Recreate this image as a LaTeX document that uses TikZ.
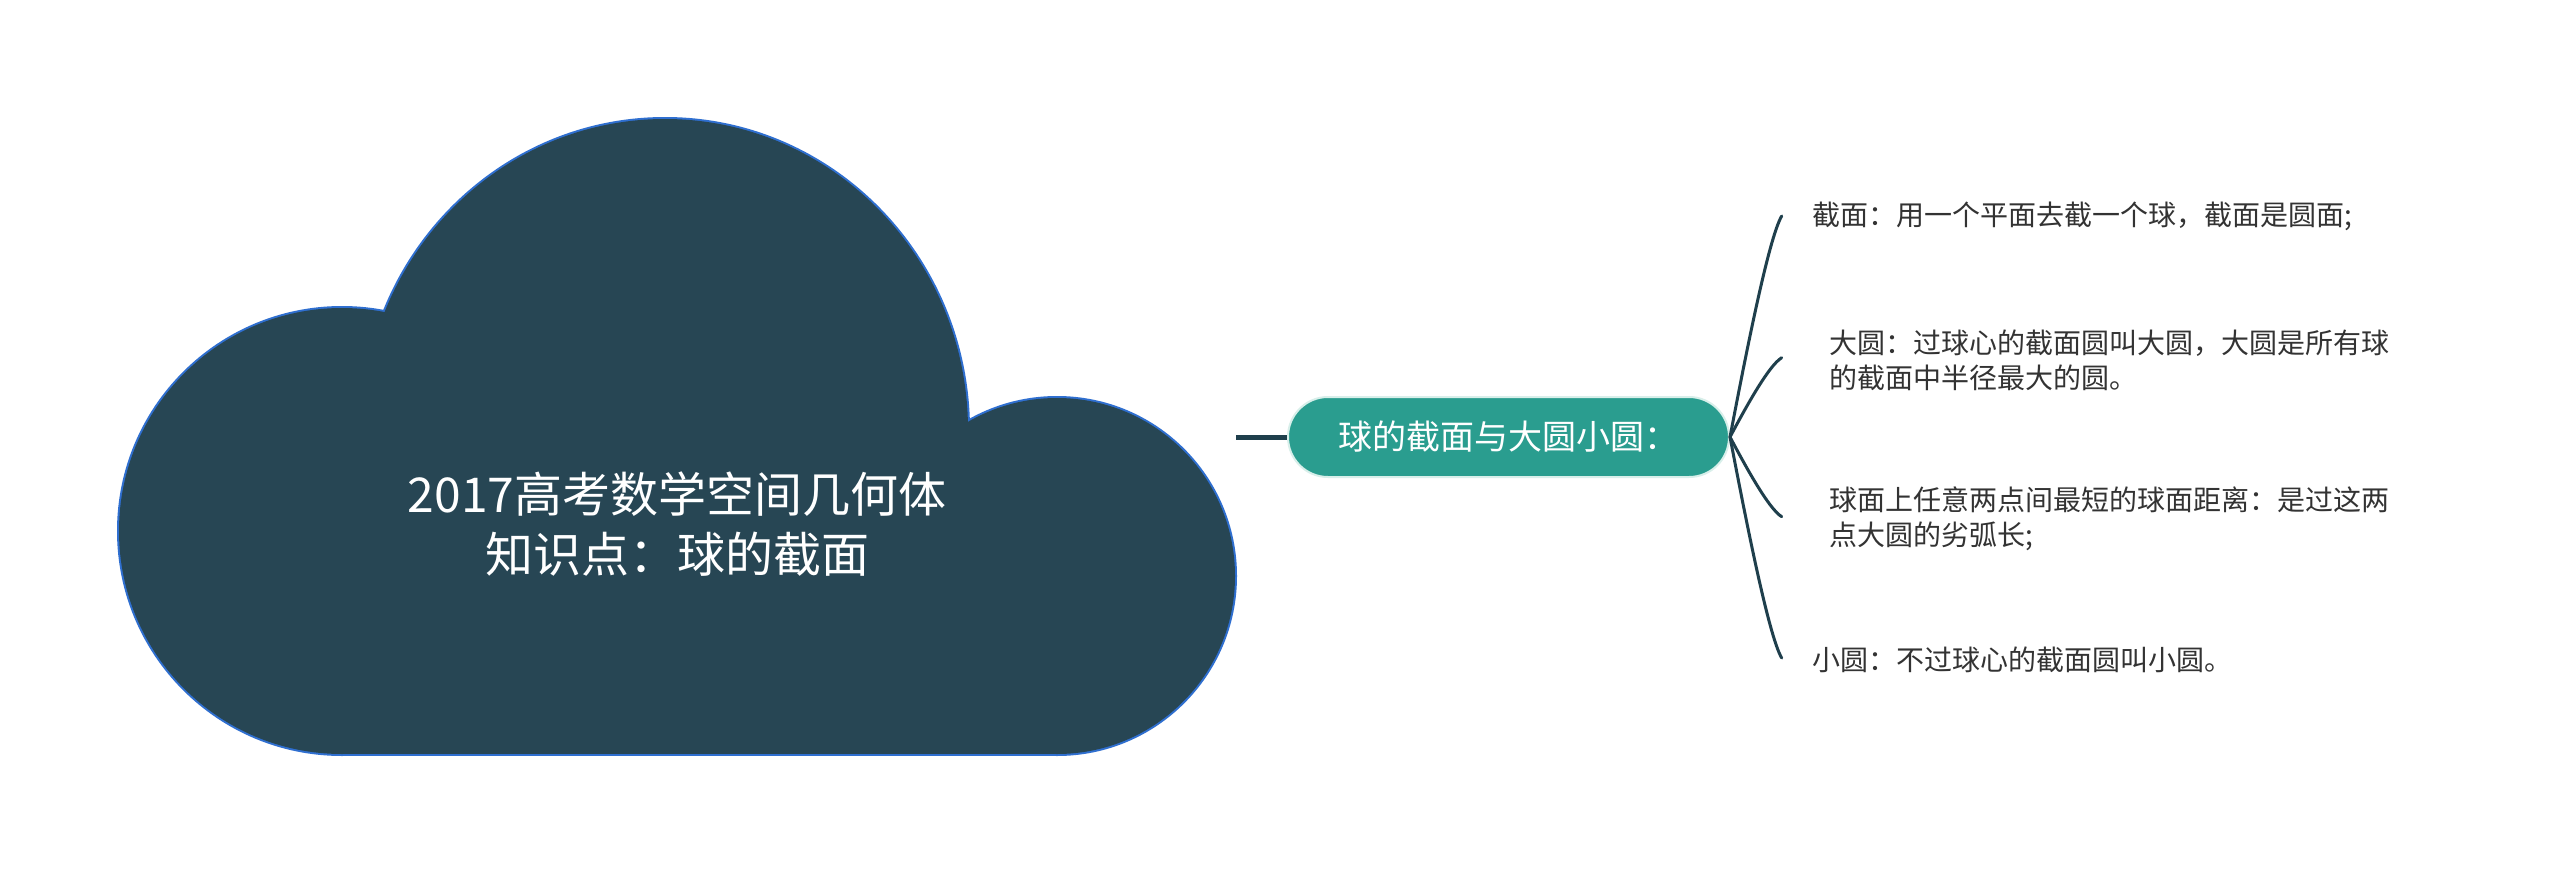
\documentclass[tikz,border=0pt]{standalone}
\usepackage{fontspec}
\setmainfont{Noto Sans CJK SC}
\definecolor{cloudfill}{HTML}{274654}
\definecolor{cloudborder}{HTML}{2F6FD0}
\definecolor{pillfill}{HTML}{2A9D8F}
\definecolor{pillborder}{HTML}{D8EFEA}
\definecolor{linecol}{HTML}{1F3F4C}
\definecolor{labelcol}{HTML}{333333}
\tikzset{
  roottext/.style={text=white, align=center, inner sep=0pt,
    font=\fontsize{48pt}{60pt}\selectfont},
  rootbox/.style={draw=none, inner sep=0pt, minimum width=1118pt, minimum height=636pt},
  pill/.style={fill=pillfill, draw=pillborder, line width=2pt, rounded corners=40pt,
    minimum width=441pt, minimum height=80pt, inner sep=0pt, text=white,
    font=\fontsize{34pt}{40pt}\selectfont},
  leaf/.style={text=labelcol, align=left, inner sep=0pt, anchor=west,
    font=\fontsize{28pt}{35pt}\selectfont},
  trunk/.style={draw=linecol, line width=5pt},
  branch/.style={draw=linecol, line width=3pt, line cap=round},
  cloudedge/.style={fill=cloudborder},
  cloudbody/.style={fill=cloudfill},
}
\begin{document}
\begin{tikzpicture}[x=1pt,y=-1pt]
\useasboundingbox[fill=white] (0,0) rectangle (2560,875);
% cloud: outline of the union, then fill
\path[cloudedge] (342,531) circle[radius=225];
\path[cloudedge] (665,430) ellipse[x radius=305, y radius=313];
\path[cloudedge] (1057,576) circle[radius=180];
\path[cloudedge] (342,560) rectangle (1057,756);
\path[cloudbody] (342,531) circle[radius=223];
\path[cloudbody] (665,430) ellipse[x radius=303, y radius=311];
\path[cloudbody] (1057,576) circle[radius=178];
\path[cloudbody] (342,560) rectangle (1057,754);
\node[rootbox] (root) at (677,437) {};
\node[roottext] (title) at (677,524) {2017高考数学空间几何体\\知识点：球的截面};
% central topic
\node[pill] (main) at (1508.5,437) {球的截面与大圆小圆：};
\draw[trunk] (root.east) -- (main.west);
% branch ends
\coordinate (e1) at (1781.7,216);
\coordinate (e2) at (1781.7,357.7);
\coordinate (e3) at (1781.7,516.7);
\coordinate (e4) at (1781.7,658);
\draw[branch] (main.east) .. controls (1744.8,359.6) and (1768.5,238.1) .. (e1);
\draw[branch] (main.east) .. controls (1744.8,409.2) and (1768.5,365.6) .. (e2);
\draw[branch] (main.east) .. controls (1744.8,464.9) and (1768.5,508.7) .. (e3);
\draw[branch] (main.east) .. controls (1744.8,514.4) and (1768.5,635.9) .. (e4);
% labels
\node[leaf] (l1) at (1812,216) {截面：用一个平面去截一个球，截面是圆面;};
\node[leaf] (l2) at (1829,360) {大圆：过球心的截面圆叫大圆，大圆是所有球\\的截面中半径最大的圆。};
\node[leaf] (l3) at (1829,519) {球面上任意两点间最短的球面距离：是过这两\\点大圆的劣弧长;};
\node[leaf] (l4) at (1812,660) {小圆：不过球心的截面圆叫小圆。};
\end{tikzpicture}
\end{document}
